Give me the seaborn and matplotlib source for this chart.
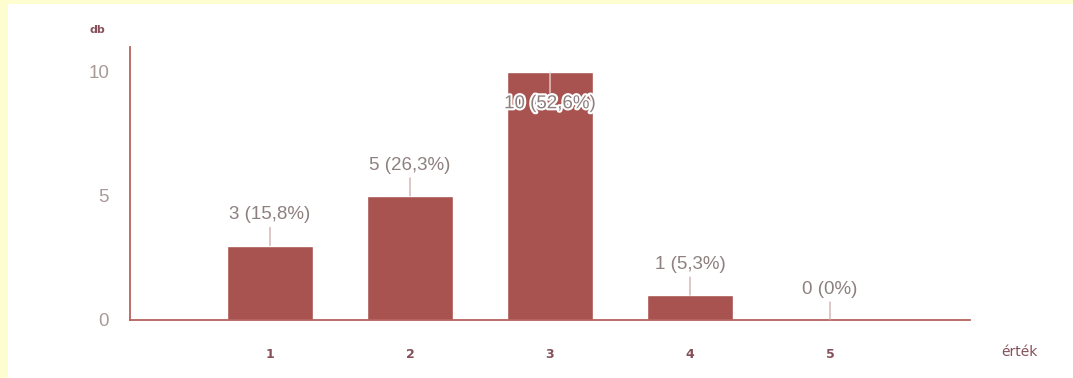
import matplotlib
matplotlib.use("Agg")
import matplotlib.pyplot as plt
import matplotlib.patheffects as pe
from matplotlib.patches import Rectangle
import pandas as pd
import seaborn as sns

# Survey answers: rating value -> number of responses
categories = ["1", "2", "3", "4", "5"]
counts = [3, 5, 10, 1, 0]
y_ticks = [0, 5, 10]

BAR = "#a8534f"
AXIS = "#b5625d"
LABEL = "#8f8080"
TICK_Y = "#a99a9a"
TICK_X = "#85505a"
CONNECT = "#caa7a7"

sns.set_style("white")
plt.rcParams["font.family"] = ["Liberation Sans", "DejaVu Sans"]

df = pd.DataFrame({"ertek": categories, "db": counts})
total = sum(counts)

fig = plt.figure(figsize=(10.73, 3.78), dpi=100, facecolor="#fefdd0")
# white panel inside the pale yellow frame
fig.patches.append(Rectangle((8 / 1073, 0), 1, 374 / 378, transform=fig.transFigure,
                             facecolor="white", edgecolor="none", zorder=-10))
ax = fig.add_axes([130 / 1073, 1 - 320 / 378, 840 / 1073, 273 / 378])
ax.set_facecolor("none")
ax.set_zorder(1)

sns.barplot(data=df, x="ertek", y="db", color=BAR, saturation=1, width=0.61,
            ax=ax, zorder=2)

ax.set_xlim(-1, 5)
ax.set_ylim(0, 11)
ax.set_yticks(y_ticks)
ax.set_xlabel("")
ax.set_ylabel("")
ax.tick_params(axis="y", length=0, pad=15, labelsize=13.5, labelcolor=TICK_Y)
ax.tick_params(axis="x", length=0, pad=20, labelsize=9, labelcolor=TICK_X)
for lab in ax.get_xticklabels():
    lab.set_fontfamily("DejaVu Sans")
    lab.set_fontweight("semibold")

for s in ["top", "right"]:
    ax.spines[s].set_visible(False)
for s in ["left", "bottom"]:
    ax.spines[s].set_color(AXIS)
    ax.spines[s].set_linewidth(1.3)

for i, v in enumerate(counts):
    pct = f"{100 * v / total:.1f}".replace(".", ",")
    if pct.endswith(",0"):
        pct = pct[:-2]
    text = f"{v} ({pct}%)"
    if v >= 10:
        # label does not fit above the tallest bar: place it inside
        ax.annotate("", xy=(i, v), xytext=(0, -15), textcoords="offset points",
                    arrowprops=dict(arrowstyle="-", color="#f2dede", lw=0.9,
                                    shrinkA=0, shrinkB=0), zorder=3)
        ax.annotate(text, xy=(i, v), xytext=(0, -23), textcoords="offset points",
                    ha="center", va="center", fontsize=13.5, color=LABEL, zorder=4,
                    path_effects=[pe.withStroke(linewidth=3, foreground="white")])
    else:
        ax.annotate("", xy=(i, v), xytext=(0, 13), textcoords="offset points",
                    arrowprops=dict(arrowstyle="-", color=CONNECT, lw=0.9,
                                    shrinkA=0, shrinkB=0), zorder=3)
        ax.annotate(text, xy=(i, v), xytext=(0, 22), textcoords="offset points",
                    ha="center", va="center", fontsize=13.5, color=LABEL, zorder=4)

fig.text(97 / 1073, 1 - 30 / 378, "db", ha="center", va="center", fontsize=8,
         color=TICK_X, fontweight="bold", family="DejaVu Sans")
fig.text(1019 / 1073, 1 - 352 / 378, "érték", ha="center", va="center", fontsize=10,
         color=TICK_X, family="DejaVu Sans")

fig.savefig("out.png", dpi=100, facecolor=fig.get_facecolor())
